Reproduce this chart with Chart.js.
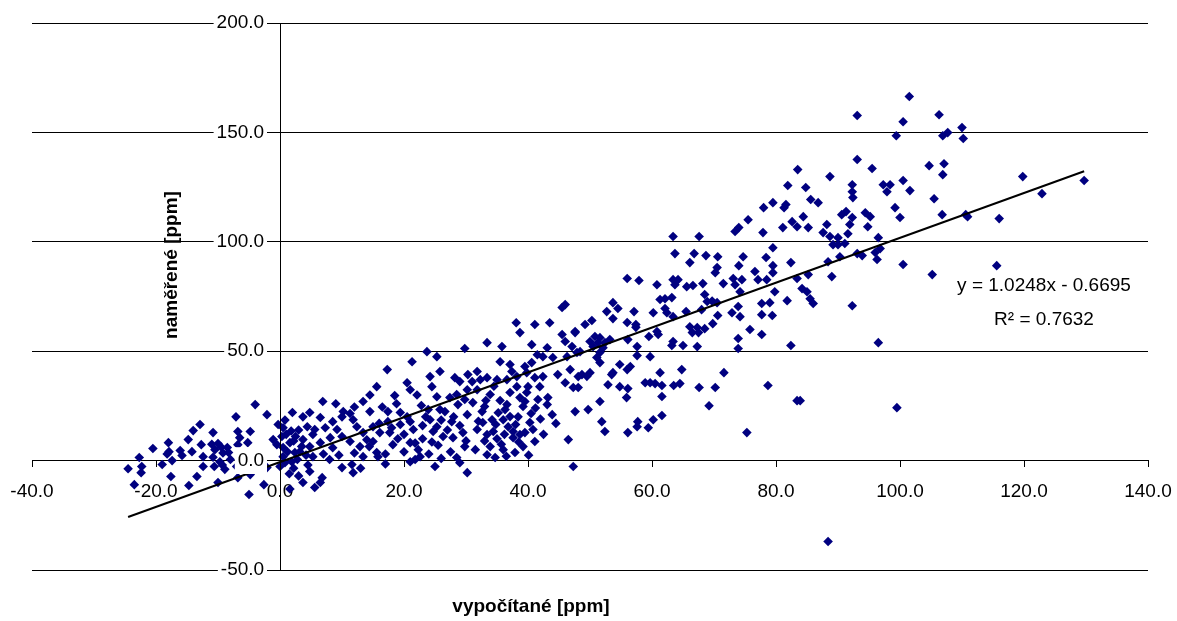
<!DOCTYPE html>
<html>
<head>
<meta charset="utf-8">
<script src="https://cdn.jsdelivr.net/npm/chart.js@4/dist/chart.umd.min.js"></script>
<style>
  html, body { margin: 0; padding: 0; background: #fff; }
  #wrap { width: 1177px; height: 621px; }
</style>
</head>
<body>
<div id="wrap"><canvas id="myChart" width="1177" height="621"></canvas></div>
<script>
/* DATA */

// [vypočítané, naměřené] in ppm
const points = [
  [-24.5,-3.7],[-22.7,1.4],[-22.3,-2.7],[-22.4,-5.5],[-23.5,-11],[-20.5,5.5],[-19,-1.8],[-18,8.2],[-17.9,4.1],[-18.2,3],
  [-17.4,0],[-17.6,-7.3],[-16.1,4.6],[-15.8,2.3],[-14.8,9.6],[-14,13.7],[-14.2,4.1],[-14.7,-11.4],[-13.4,-7.3],[-12.9,16.5],
  [-12.7,7.3],[-12.4,1.8],[-12.4,-2.7],[-10.8,12.8],[-11,7.5],[-10.5,5],[-10.8,1.5],[-10,7.8],[-9.5,6.2],[-9.2,3.5],
  [-10.6,-2.7],[-9.7,-0.5],[-8.9,-4],[-8.5,6],[-8.3,3.7],[-8,0.5],[-9.3,-2],[-7.1,20],[-6.8,13.3],[-6.5,10.5],
  [-6.8,7.3],[-4.8,13.3],[-5.2,8.2],[-7,-2.7],[-6.8,-7.8],[-4.8,-6.4],[-4,25.6],[-2.1,21],[-5,-15.5],[-2.6,-11],
  [-2.1,-3.2],[-0.3,16.5],[0.5,15],[-1.1,9.6],[-0.5,7.3],[0.5,6],[1.6,8.2],[2.4,3.7],[0.5,1.8],[1.9,-0.5],
  [0,-2.7],[1.6,-13],[-10,-10],[1,12],[2.5,11],[3,14],[1.2,4],[2.8,0.5],[0.8,-1],[2.2,-3.5],
  [0.3,11],[1.8,13.5],[2.2,9],[3.5,6.5],[4.2,2.5],[1.5,-6],[3,-7],[0.8,18.5],[2,22],[4.5,-2],

  [3.7,-10],[4.8,-5],[6.5,-10],[5.6,-12.3],[6.8,-7.8],
  [6.9,27],[15.6,33.8],[20.5,35.6],[22.1,30],[24.5,33.8],[18.5,29.7],[14.5,30],[13.4,27],[14.5,22.4],[10.2,22.4],
  [10,20],[11.3,21.5],[4.8,22],[3.7,20],[6.5,19.7],[8.5,17.8],[11.8,18.7],[12.4,15.5],[4.4,15.5],[5.6,14.2],
  [7.3,15],[9.2,14.2],[10,11],[8.1,10.5],[5.3,11.9],[3.7,9.6],[4.8,6.4],[6.5,8.2],[8.5,5.9],[11.3,8.7],
  [13.4,12.8],[12.9,6.4],[13.4,1.8],[15.6,3.7],[15,8.7],[17.4,22.4],[17.4,17.8],[17.7,12.8],[18.2,7.3],[19.4,22],
  [19.4,16.5],[21,17.8],[21.5,14.2],[21,8.2],[21.8,8],[22.3,5],[22.6,1.8],[24.2,18.7],[24.7,13.3],[25.3,15.5],
  [26.3,11],[26.6,22.4],[27.7,17.8],[28.7,25.6],[29.5,12.8],[29.8,6.4],[27.9,10.5],[30.2,21],[31.1,26.5],[31.8,14.2],
  [31.5,5],[28.5,1.4],[30.2,-5.5],[25,-2.7],[21.8,0.5],[21,-0.5],[15.8,1.8],[11.6,-1.8],[11.8,-5.5],[10,-3.2],
  [5.3,1.8],[3.2,4.1],[16.1,12.8],[15,15.5],[14.4,6.4],
  [19,10],[20,12],[23,10],[23.5,20],[25.5,7],[27,14],[28,20],[20,4],[17,3],[24,3],
  [26,1],[29,16],[30,9],[32,18],[18.8,26],[16.5,24.5],[22.8,25.2],[12,24.5],[9,26],
  [9.5,2.5],[12,3.5],[14,9.5],[16,17],[18,15],[20.5,20],[23,16],[26,18.5],[27.5,4],[29,-1],
  [13,-3.5],[8,0.5],[7,3],[17,-1.5],[24.5,8.5],

  [46,71.3],[38.1,63],[41.1,62.2],[43.5,63],[38.7,58.5],[45.5,57.6],[47.6,58.5],[46,54.4],[33.4,53.9],[35.8,52.1],
  [40.6,53],[43.1,51.6],[29.8,51.2],[23.7,49.8],[25.3,47.5],[21.3,45.2],[17.3,41.6],[35.5,45.2],[37.1,43.9],[41.5,48.4],
  [42.4,47.5],[44,47.1],[47.1,52.1],[39.5,43],[40.6,44.8],[39.8,40.2],[38.2,38.4],[37.4,40.7],[36.6,37],[35,37],
  [33.4,37.9],[31.8,40.7],[32.3,37],[30.3,39.3],[31,36.1],[28.2,37.9],[29,36.1],[25.8,40.7],[24.2,38.4],[41.1,37.9],
  [42.4,38.4],[44.8,39.3],[46.8,41.6],[47.9,49.4],[48.1,38.4],[31.8,32.4],[30.2,32.4],[29.8,27.9],[28.5,30.2],[27.4,28.8],
  [25.8,23.3],[25.3,29.2],[21,32.4],[23.9,23.3],

  [33.9,30.2],[33,24.7],[32.6,22.4],[32.7,17.4],[34.2,18.7],[34.4,13.3],[33.4,11.9],[33.9,6.4],[33.4,2.7],[34.7,1.4],
  [35.2,21.9],[36.3,23.3],[36,18.7],[37.1,20.1],[36.8,15.5],[36.6,25.6],[37.1,31.1],[38.2,33.8],[38.7,28.8],[39.2,24.7],
  [39.8,31.1],[40,33.8],[37.6,13.3],[37.6,10.5],[38.7,11.9],[39.5,12.8],[40.8,14.2],[40.3,17.4],[41.1,8.7],[39.2,6.4],
  [37.9,3.7],[41.6,27.9],[41.9,33.8],[43.2,28.8],[43.1,25.6],[43.9,21],[46.5,9.6],[47.6,22.4],[47.3,-2.7],[49.7,23.3],
  [51.6,27],[51.9,17.8],[52.4,13.3],[52.9,34.7],[55.9,28.8],[56.1,12.8],[57.7,17.8],[57.6,15.5],[59.4,15],[60.2,18.7],
  [47.3,33.4],[48.1,33.4],[46,35.6],[54.8,33.8],[58.9,35.6],[56.1,32.9],[59.7,35.6],[60.5,35.2],
  [35,10],[36,5],[38.5,8.5],[35.5,27.5],[34.5,34],[40.5,21.5],[42,19],[36.5,2],[33,9],[38,16.5],
  [34.8,16.5],[36.2,12],[38.4,20],[39.5,27],[41.2,24],[42.5,12],[44.5,17],[33.2,27.5],[35.7,7.5],[40.1,2.5],

  [63.4,102.4],[67.6,102.4],[73.4,104.7],[77.9,104.2],[79.5,97.3],[63.7,94.6],[66.8,94.6],[68.7,93.7],[70.6,93.2],[74.7,93.2],
  [66.1,90.5],[78.4,92.8],[70.5,88.2],[70.2,85.9],[74,89.1],[76.6,86.4],[79.5,89.1],[56,83.2],[57.9,82.3],[60.8,80.4],
  [63.4,82.7],[64.2,82.7],[63.7,80.4],[65.6,79.5],[66.6,80],[68.2,80.9],[71.5,80.9],[73.1,83.2],[74.5,82.7],[73.4,80.4],
  [77.1,82.7],[78.5,82.7],[79.5,85.9],[79.8,77.2],[74.2,77.2],[68.5,75.9],[61.3,73.6],[62.1,74],[63.2,74.5],[68.9,72.7],
  [69.7,72.9],[70.5,72.2],[53.7,72.2],[45.5,70],[52.7,68.1],[54.5,69.5],[53.7,64.9],[57.1,68.1],[60.2,67.6],[62.1,69.5],
  [62.4,67.6],[63.4,65.8],[65.5,68.1],[68,69],[73.9,70.4],[72.9,67.6],[74.2,65.8],[77.7,71.8],[79,72.2],[77.7,66.7],
  [79.4,66.3],[70.6,66.3],[69.8,62.6],[56,63.1],[57.4,62.2],[57.4,60.9],[60.8,59],[61,57.6],[59.5,56.7],[66.1,61.2],
  [67.3,60.8],[68.5,60.3],[66.5,58.5],[67.5,58.5],[75.8,59.9],[77.7,57.6],[73.9,55.8],[63.4,54.4],[63.2,52.6],[65,52.6],
  [67.3,52.1],[73.9,51.2],[49.2,62.2],[50.3,64],[47.6,59],[50.8,56.7],[51.6,56.2],[51.3,53.9],[52.4,53.9],[53.2,55.3],
  [50,54.4],[50.5,52.1],[52.1,51.6],[48.4,49.8],[51.6,49.4],[51.1,47.1],[51.6,44.8],[56.1,55.3],[57.6,52.1],[57.6,48],
  [54.8,43.9],[56,41.6],[56.5,43],[53.7,40.2],[53.5,39.3],[59.7,47.5],[46.3,47.5],[48.7,39.3],[50,40.2],[49.5,38.5],
  [61.3,40.2],[64.8,41.6],[71.6,40.2],

  [87.6,104.2],[88.7,102.4],[90,101.9],[91.6,103.7],[89.2,98.7],[90,98.7],[91.1,99.2],[96.5,101.9],[96.8,96.9],[96,95.1],
  [96.3,91.9],[93.9,93.7],[93.1,94.6],[90.3,93.2],[88.4,90.9],[82.4,90.5],[100.5,89.6],[105.2,85],[115.6,89.1],[85.2,85],
  [89,84.1],[83.4,83.2],[84.2,78.6],[85,77.2],[85.5,74],[86,71.8],[81.8,73.1],[92.3,70.8],[82.4,52.6],[96.5,53.9],

  [93.1,157.7],[99.4,148.5],[93.1,137.6],[95.5,133.5],[83.5,133],[88.7,129.8],[81.9,125.7],[84.8,124.8],[92.3,126.1],[92.3,122.9],
  [92.4,120.2],[97.3,126.1],[98.4,126.1],[97.9,122.9],[79.5,117.9],[78,115.6],[81.6,117],[81.3,115.6],[85.6,119.3],[86.8,117.9],
  [75.5,110.1],[74,106.5],[81.1,106.5],[82.6,109.2],[83.4,106.9],[84.4,111.5],[85.2,106.5],[88.2,107.9],[90.6,112.4],[91.3,113.8],
  [92.3,111.1],[91.9,107.9],[94.4,113.3],[95.2,111.5],[94.8,106.9],[99.2,115.6],

  [101.5,166.4],[100.5,154.9],[106.3,158.1],[110,152.2],[106.9,148.5],[107.7,149.9],[110.2,147.2],[104.7,134.8],[107.1,135.7],[106.9,130.7],
  [100.5,128],[101.6,123.4],[105.5,119.7],[119.8,129.8],[122.9,122],[129.7,128],[106.8,112.4],[110.6,112.4],[110.9,111.5],[116,110.6],
  [100,111.1],

  [61.6,34.3],[61.6,29.3],[61.6,20.6],[63.5,34.3],[64.5,35.2],[67.6,33.4],[70.2,33.4],[69.2,25.1],[75.3,12.8],[78.7,34.3],
  [83.4,27.4],[83.9,27.4],[99.5,24.2],[88.4,-37]
];

// linear trend as printed on the chart
const slope = 1.0248;
const intercept = -0.6695;
const rSquared = 0.7632;

const xTicks = [-40, -20, 0, 20, 40, 60, 80, 100, 120, 140];
const yTicks = [-50, 0, 50, 100, 150, 200];

const xTitle = 'vypočítané [ppm]';
const yTitle = 'naměřené [ppm]';

/* CHART */

const scatterData = points.map(function(p) { return {x: p[0], y: p[1]}; });
const xs = points.map(function(p) { return p[0]; });
const xMin = Math.min.apply(null, xs);
const xMax = Math.max.apply(null, xs);
const trendData = [
  {x: xMin, y: slope * xMin + intercept},
  {x: xMax, y: slope * xMax + intercept}
];

const tickFont = {family: '"Liberation Sans", Arial, sans-serif', size: 19};

// scales sit inside the plot, so they should not push the chart area in
function noScalePadding(axis) {
  axis.paddingLeft = 0;
  axis.paddingRight = 0;
  axis.paddingTop = 0;
  axis.paddingBottom = 0;
}

// axis titles and trend equation as canvas text
const textPlugin = {
  id: 'texts',
  afterDraw: function(chart) {
    const c = chart.ctx;
    c.save();
    c.fillStyle = '#000';
    c.textAlign = 'center';
    c.textBaseline = 'middle';
    c.font = 'bold 19px "Liberation Sans", Arial, sans-serif';
    c.fillText(xTitle, 531, 607);
    c.save();
    c.translate(172, 265);
    c.rotate(-Math.PI / 2);
    c.fillText(yTitle, 0, 0);
    c.restore();
    c.font = '19px "Liberation Sans", Arial, sans-serif';
    c.fillText('y = ' + slope.toFixed(4) + 'x - ' + Math.abs(intercept).toFixed(4), 1044, 286);
    c.fillText('R² = ' + rSquared.toFixed(4), 1044, 320);
    c.restore();
  }
};

const ctx = document.getElementById('myChart').getContext('2d');
const chart = new Chart(ctx, {
  type: 'scatter',
  data: {
    datasets: [{
      type: 'line',
      data: trendData,
      borderColor: '#000',
      borderWidth: 2,
      pointRadius: 0,
      fill: false,
      order: 0
    },
    {
      data: scatterData,
      pointStyle: 'rectRot',
      pointRadius: 4.8,
      backgroundColor: '#000080',
      borderColor: '#000080',
      borderWidth: 0,
      order: 1
    }]
  },
  options: {
    responsive: false,
    animation: false,
    layout: {padding: {left: 32, right: 29, top: 23, bottom: 51}},
    plugins: {
      legend: {display: false},
      tooltip: {enabled: false}
    },
    scales: {
      x: {
        type: 'linear',
        min: -40,
        max: 140,
        position: {y: 0},
        afterBuildTicks: function(axis) {
          axis.ticks = xTicks.map(function(v) { return {value: v}; });
        },
        afterFit: noScalePadding,
        ticks: {
          autoSkip: false,
          maxRotation: 0,
          padding: 14,
          color: '#000',
          font: tickFont,
          callback: function(v) { return v.toFixed(1); }
        },
        grid: {drawOnChartArea: false, drawTicks: true, tickLength: 6, tickColor: '#000'},
        border: {color: '#000', width: 1}
      },
      y: {
        type: 'linear',
        min: -50,
        max: 200,
        position: {x: 0},
        afterBuildTicks: function(axis) {
          axis.ticks = yTicks.map(function(v) { return {value: v}; });
        },
        afterFit: noScalePadding,
        ticks: {
          color: '#000',
          font: tickFont,
          showLabelBackdrop: true,
          backdropColor: '#fff',
          backdropPadding: {top: 2, bottom: 2, left: 3, right: -13},
          z: 1,
          // trailing spaces keep the label clear of the axis line
          callback: function(v) { return v.toFixed(1) + '   '; }
        },
        grid: {color: '#000', drawTicks: false},
        border: {color: '#000', width: 1, z: 2}
      }
    }
  },
  plugins: [textPlugin]
});
</script>
</body>
</html>
